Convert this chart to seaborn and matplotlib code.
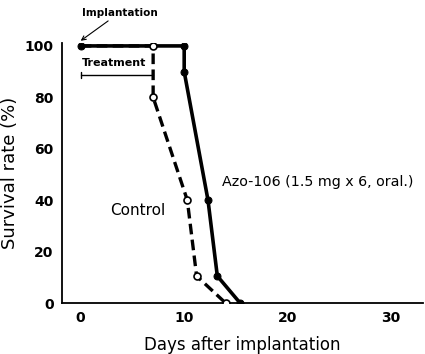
import pandas as pd
import matplotlib
matplotlib.use('Agg')
import matplotlib.pyplot as plt
import seaborn as sns

# 데이터
days_control = [0, 7, 7, 10.3, 11.2, 14.0]
surv_control = [100, 100, 80, 40, 10.5, 0]
days_azo = [0, 10, 10, 12.3, 13.2, 15.4]
surv_azo = [100, 100, 90, 40, 10.5, 0]
xticks = [0, 10, 20, 30]
yticks = [0, 20, 40, 60, 80, 100]

df_c = pd.DataFrame({'day': days_control, 'rate': surv_control})
df_a = pd.DataFrame({'day': days_azo, 'rate': surv_azo})

sns.set_style('white')
plt.rcParams['font.family'] = ['DejaVu Sans']
plt.rcParams['text.color'] = 'black'
plt.rcParams['axes.labelcolor'] = 'black'
plt.rcParams['xtick.color'] = 'black'
plt.rcParams['ytick.color'] = 'black'

fig = plt.figure(figsize=(4.25, 3.54), dpi=100)
ax = fig.add_axes([0.146, 0.144, 0.85, 0.735])

sns.lineplot(data=df_a, x='day', y='rate', estimator=None, sort=False, ax=ax,
             color='black', linewidth=2.6, marker='o', markersize=5,
             markerfacecolor='black', markeredgecolor='black', zorder=3)
# 대조군: 0일 점은 처리군과 겹치므로 표시하지 않음
sns.lineplot(data=df_c, x='day', y='rate', estimator=None, sort=False, ax=ax,
             color='black', linewidth=2.4, linestyle=(0, (3.2, 1.6)), marker='o', markersize=5,
             markevery=list(range(1, len(days_control))),
             markerfacecolor='white', markeredgecolor='black', markeredgewidth=1.2, zorder=4)

ax.set_xlim(-1.8, 33.1)
ax.set_ylim(0, 101.2)
ax.set_xticks(xticks)
ax.set_yticks(yticks)
ax.tick_params(axis='both', direction='in', length=3, width=1, labelsize=10, pad=6)
for lab in ax.get_xticklabels() + ax.get_yticklabels():
    lab.set_fontweight('bold')
for s in ['top', 'right']:
    ax.spines[s].set_visible(False)
for s in ['left', 'bottom']:
    ax.spines[s].set_linewidth(1.3)
    ax.spines[s].set_color('black')

ax.set_xlabel('Days after implantation', fontsize=12, labelpad=8)
ax.set_ylabel('Survival rate (%)', fontsize=13, labelpad=4)

# 처리 기간 표시
ax.plot([0, 7], [88.7, 88.7], color='black', linewidth=1)
ax.plot([0, 0], [87.5, 89.9], color='black', linewidth=1)
ax.text(0.1, 91.5, 'Treatment', fontsize=8, fontweight='bold', ha='left', va='bottom')
ax.annotate('Implantation', xy=(0, 102), xytext=(0.1, 111),
            fontsize=7.5, fontweight='bold', ha='left', va='bottom', annotation_clip=False,
            arrowprops=dict(arrowstyle='->', color='black', lw=0.8, shrinkA=0, shrinkB=0))
ax.text(5.5, 36, 'Control', fontsize=11, ha='center', va='center')
ax.text(13.7, 47, 'Azo-106 (1.5 mg x 6, oral.)', fontsize=10.3, ha='left', va='center')

fig.savefig('out.png', dpi=100)
